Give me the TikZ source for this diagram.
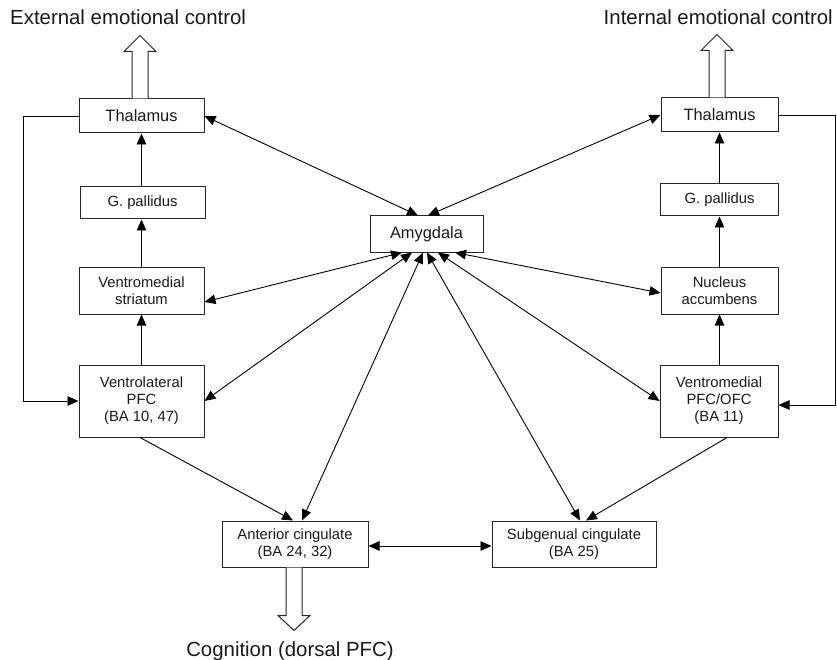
\documentclass[tikz,border=0pt]{standalone}
\usepackage{fontspec}
\setmainfont{Liberation Sans}
\usetikzlibrary{arrows.meta,calc}
\tikzset{
  box/.style={draw=black!85, line width=1pt, inner sep=0pt, align=center, font=\fontsize{14.8}{17}\selectfont, text=black!90},
  bigbox/.style={box, font=\fontsize{16.4}{19}\selectfont},
  title/.style={font=\fontsize{20.4}{24}\selectfont, inner sep=0pt, text=black!90},
  bi/.style={line width=0.9pt, {Triangle[length=11pt,width=9.5pt]}-{Triangle[length=11pt,width=9.5pt]}},
  uni/.style={line width=0.9pt, -{Triangle[length=11pt,width=9.5pt]}},
  hollow/.style={draw=black!85, line width=1pt, fill=white},
}
\begin{document}
\begin{tikzpicture}[x=1pt,y=-1pt]
\useasboundingbox (0,0) rectangle (837,660);
% titles
\node[title, anchor=base west] (t1) at (10,25) {External emotional control};
\node[title, anchor=base east] (t2) at (833,25) {Internal emotional control};
\node[title, anchor=base] (t3) at (290,656) {Cognition (dorsal PFC)};
% left column
\node[bigbox, minimum width=125pt, minimum height=34pt] (thL) at (141.5,116) {Thalamus};
\node[box, minimum width=125pt, minimum height=32pt] (gpL) at (142.5,203) {G. pallidus};
\node[box, minimum width=125pt, minimum height=47pt] (vsL) at (141.5,290.5) {Ventromedial\\striatum};
\node[box, minimum width=125pt, minimum height=72pt] (vlL) at (141.5,401) {Ventrolateral\\PFC\\(BA 10, 47)};
% centre
\node[bigbox, minimum width=113pt, minimum height=36pt] (amy) at (426.5,234) {Amygdala};
\node[box, minimum width=146pt, minimum height=46pt] (ac) at (295,544) {Anterior cingulate\\(BA 24, 32)};
\node[box, minimum width=164pt, minimum height=46pt] (sg) at (574,544) {Subgenual cingulate\\(BA 25)};
% right column
\node[bigbox, minimum width=117pt, minimum height=34pt] (thR) at (719.5,115) {Thalamus};
\node[box, minimum width=118pt, minimum height=32pt] (gpR) at (719.5,200) {G. pallidus};
\node[box, minimum width=117pt, minimum height=47pt] (na) at (719.5,290.5) {Nucleus\\accumbens};
\node[box, minimum width=118pt, minimum height=72pt] (vm) at (719,401) {Ventromedial\\PFC/OFC\\(BA 11)};
% vertical chains
\draw[uni] (vlL.north) -- (vsL.south);
\draw[uni] (vsL.north) -- (vsL.north |- gpL.south);
\draw[uni] (vsL.north |- gpL.north) -- (thL.south);
\draw[uni] (vm.north -| na.south) -- (na.south);
\draw[uni] (na.north) -- (na.north |- gpR.south);
\draw[uni] (na.north |- gpR.north) -- (thR.south);
% loops
\draw[uni] (thL.west) -- ++(-55,0) |- (vlL.west);
\draw[uni] (thR.east) -- ++(57,0) |- ($(vm.east)+(0,4)$);
% amygdala connections
\draw[bi] (thL.east) -- ($(amy.north)+(-8.5,0)$);
\draw[bi] (thR.west) -- ($(amy.north)+(1.5,0)$);
\draw[bi] ($(vsL.east)+(0,11.5)$) -- ($(amy.south)+(-24.5,0)$);
\draw[bi] (vlL.east) -- ($(amy.south)+(-14.5,0)$);
\draw[bi] ($(ac.north)+(7,0)$) -- ($(amy.south)+(-3.5,0)$);
\draw[bi] ($(sg.north)+(6,0)$) -- ($(amy.south)+(0.5,0)$);
\draw[bi] (vm.west) -- ($(amy.south)+(11.5,0)$);
\draw[bi] ($(na.west)+(0,2.5)$) -- ($(amy.south)+(28.5,0)$);
% PFC to cingulate
\draw[uni] ($(vlL.south)+(-1.5,0)$) -- ($(ac.north)+(-2,0)$);
\draw[uni] ($(vm.south)+(8,0)$) -- ($(sg.north)+(12,0)$);
\draw[bi] ($(ac.east)+(0,2)$) -- ($(sg.west)+(0,2)$);
% hollow arrows
\draw[hollow] ($(thL.north)+(-9.5,0)$) -- ++(0,-47) -- ++(-8,0) -- ++(16,-16) -- ++(16,16) -- ++(-8,0) -- ++(0,47);
\draw[hollow] ($(thR.north)+(-10.5,0)$) -- ++(0,-47) -- ++(-8,0) -- ++(16,-16) -- ++(16,16) -- ++(-8,0) -- ++(0,47);
\draw[hollow] ($(ac.south)+(-9,0)$) -- ++(0,48) -- ++(-8,0) -- ++(16,15) -- ++(16,-15) -- ++(-8,0) -- ++(0,-48);
\end{tikzpicture}
\end{document}
